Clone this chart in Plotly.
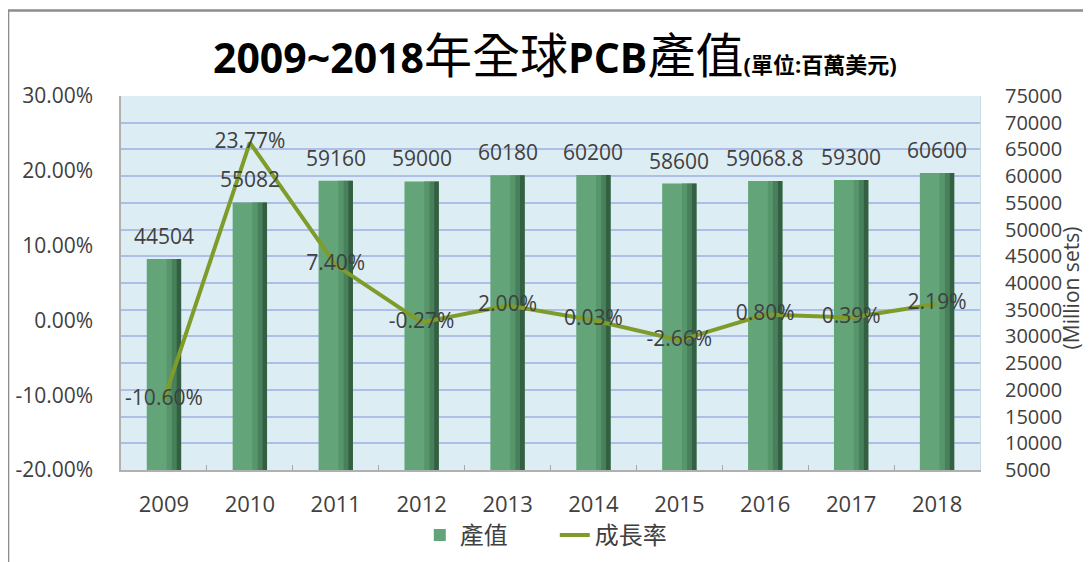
import plotly.graph_objects as go

years = ["2009", "2010", "2011", "2012", "2013", "2014", "2015", "2016", "2017", "2018"]
output_value = [44504, 55082, 59160, 59000, 60180, 60200, 58600, 59068.8, 59300, 60600]
growth_pct = [-10.60, 23.77, 7.40, -0.27, 2.00, 0.03, -2.66, 0.80, 0.39, 2.19]
left_tick_vals = [-0.2, -0.1, 0.0, 0.1, 0.2, 0.3]
left_tick_text = ["-20.00%", "-10.00%", "0.00%", "10.00%", "20.00%", "30.00%"]

FONT = "Open Sans, Noto Sans CJK TC, sans-serif"
TXT = "#404040"

fig = go.Figure()

# main bar (legend entry)
fig.add_trace(go.Bar(
    x=years, y=output_value, name="產值", yaxis="y",
    width=0.4, offset=-0.2,
    marker=dict(color="#64a479", line=dict(width=0)),
))
# shading strips to imitate the gradient of the original bars
for off, w, col in [(0.03, 0.06, "#57956b"), (0.09, 0.055, "#47805a"), (0.145, 0.055, "#335f42")]:
    fig.add_trace(go.Bar(
        x=years, y=output_value, yaxis="y", showlegend=False, hoverinfo="skip",
        width=w, offset=off, marker=dict(color=col, line=dict(width=0)),
    ))

fig.add_trace(go.Scatter(
    x=years, y=[g / 100 for g in growth_pct], yaxis="y2", name="成長率",
    mode="lines+text",
    line=dict(color="#7f9c2a", width=4),
    text=[f"{g:.2f}%" for g in growth_pct],
    textposition="middle center",
    textfont=dict(family=FONT, size=21, color=TXT),
))

annotations = []
for i, v in enumerate(output_value):
    annotations.append(dict(
        x=i, y=v, xref="x", yref="y", yanchor="bottom", yshift=7,
        showarrow=False, text=f"{v:g}",
        font=dict(family=FONT, size=21, color=TXT),
    ))
annotations.append(dict(
    x=1.124, y=0.487, xref="paper", yref="paper", textangle=-90,
    showarrow=False, text="(Million sets)",
    font=dict(family=FONT, size=21, color=TXT),
))

fig.update_layout(
    width=1091, height=562,
    margin=dict(l=113, r=119, t=88, b=98),
    paper_bgcolor="white",
    plot_bgcolor="#dcedf4",
    barmode="overlay",
    title=dict(
        text="<b>2009~2018</b><span style='font-size:48px'>年全球</span><b>PCB</b>"
             "<span style='font-size:48px'>產值</span><span style='font-size:22px'><b>(單位:百萬美元)</b></span>",
        x=0.505, xref="paper", xanchor="center",
        y=0.91, yref="container", yanchor="middle",
        font=dict(family=FONT, size=41, color="black"),
    ),
    xaxis=dict(
        type="category", categoryorder="array", categoryarray=years,
        range=[-0.5, len(years) - 0.5],
        tickfont=dict(family=FONT, size=22, color=TXT),
        tickangle=0, automargin=False,
        showline=True, linecolor="#b0b0b0", linewidth=1.5,
        ticks="inside", tickson="boundaries", ticklen=5, tickcolor="#a8a8a8",
        ticklabelstandoff=14,
        showgrid=False,
    ),
    yaxis=dict(
        side="right", automargin=False,
        range=[5000, 75000], dtick=5000, tickformat="d",
        showgrid=True, gridcolor="#adbfe8", gridwidth=1.5,
        zeroline=False,
        showline=True, linecolor="#c9dbe3",
        tickfont=dict(family=FONT, size=20, color=TXT),
        ticklabelstandoff=20,
    ),
    yaxis2=dict(
        side="left", overlaying="y", automargin=False,
        range=[-0.2, 0.3], tickmode="array",
        tickvals=left_tick_vals, ticktext=left_tick_text,
        showgrid=False, zeroline=False,
        showline=True, linecolor="#b0b0b0", linewidth=1.5,
        tickfont=dict(family=FONT, size=21, color=TXT),
        ticklabelstandoff=22,
    ),
    legend=dict(
        orientation="h", x=0.505, xanchor="center", y=-0.175, yanchor="middle",
        font=dict(family=FONT, size=24, color=TXT),
        bgcolor="rgba(0,0,0,0)",
        entrywidth=90,
    ),
    annotations=annotations,
    shapes=[dict(
        type="rect", xref="paper", yref="paper",
        x0=-0.1315, x1=1.2, y0=-0.6, y1=1.2287,
        line=dict(color="#8c8c8c", width=2.5), fillcolor="rgba(0,0,0,0)",
        layer="below",
    )],
    showlegend=True,
)

fig.write_html("out.html")
